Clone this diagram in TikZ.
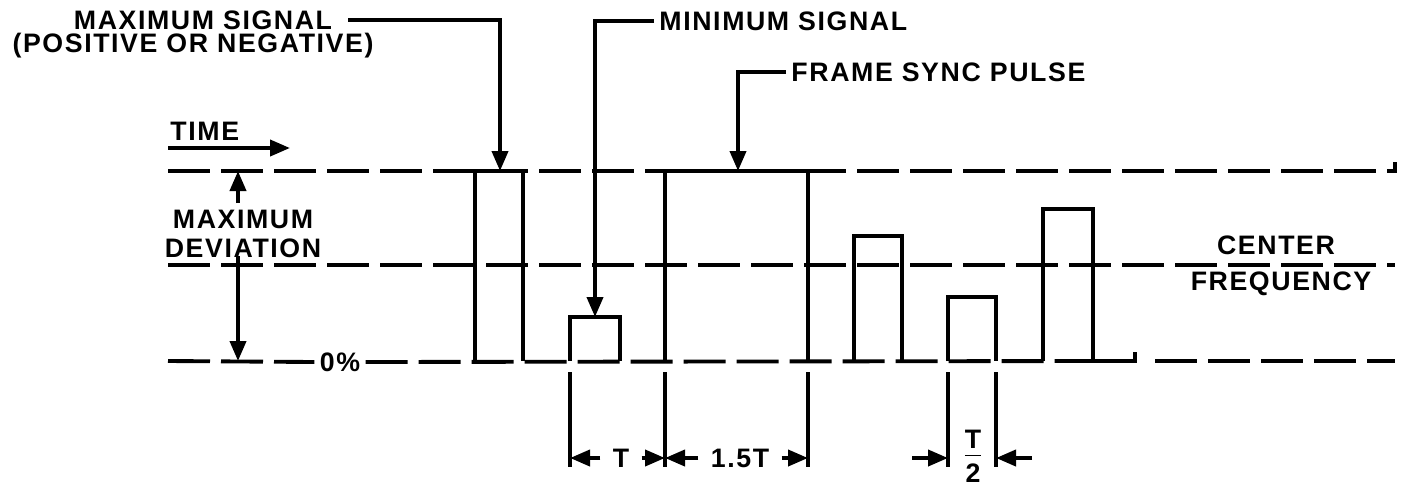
\documentclass[tikz,border=0pt]{standalone}
\usepackage{fontspec}
\setmainfont{Liberation Sans}[LetterSpace=6]
\usetikzlibrary{arrows.meta}

\begin{document}
\begin{tikzpicture}[x=0.1mm, y=-0.1mm, line width=1.1pt,
    >={Triangle[length=2mm, width=1.6mm]},
    font=\fontsize{7.6}{9}\selectfont\bfseries,
    refline/.style={dash pattern=on 4.2mm off 1.1mm},
    lbl/.style={inner sep=1pt, align=center},
    dimlbl/.style={inner sep=3pt}]
  \useasboundingbox (0,0) rectangle (1402,487);

  % reference levels
  \draw[refline] (168,171) -- (1395,171) -- (1395,162);
  \draw[refline] (168,265) -- (1395,265);
  \node[lbl] (zero) at (340,362) {0\%};
  \draw[refline] (168,361) -- (zero.west);
  \draw[refline] (zero.east) -- (1093,361);
  \draw[refline] (1155,361) -- (1395,361);

  % pulses
  \draw (475,361) -- (475,171) -- (523,171) -- (523,361);
  \draw (570,361) -- (570,317) -- (620,317) -- (620,361);
  \draw (665,361) -- (665,171) -- (808,171) -- (808,361);
  \draw (854,361) -- (854,236) -- (902,236) -- (902,361);
  \draw (948,361) -- (948,297) -- (996,297) -- (996,361);
  \draw (1043,361) -- (1043,209) -- (1093,209) -- (1093,361);
  \draw (1093,361) -- (1135,361) -- (1135,352);

  % leaders
  \node[lbl] (maxsig) at (203,20) {MAXIMUM SIGNAL};
  \node[lbl] (posneg) at (193,46) {(POSITIVE OR NEGATIVE)};
  \coordinate (maxtop) at (500,171);
  \draw[->, shorten <=3pt] (maxsig.east) -| (maxtop);

  \node[lbl, anchor=west] (minsig) at (654,21) {MINIMUM SIGNAL};
  \coordinate (mintop) at (595,317);
  \draw[->] (minsig.west) -| (mintop);

  \node[lbl, anchor=west] (fsync) at (786,72) {FRAME SYNC PULSE};
  \coordinate (fstop) at (738,171);
  \draw[->] (fsync.west) -| (fstop);

  % time
  \node[lbl, anchor=west] (time) at (165,131) {TIME};
  \coordinate (tstart) at (168,148);
  \coordinate (tend) at (290,148);
  \draw[->] (tstart) -- (tend);

  % deviation
  \node[lbl] (maxl) at (243,219) {MAXIMUM};
  \node[lbl] (devl) at (243,248) {DEVIATION};
  \coordinate (dvtop) at (238,171);
  \coordinate (dvup) at (238,203);
  \coordinate (dvmid) at (238,256);
  \coordinate (dvbot) at (238,361);
  \draw[->] (dvup) -- (dvtop);
  \draw[->] (dvmid) -- (dvbot);

  % center frequency
  \node[lbl] (cent) at (1276,245) {CENTER};
  \node[lbl] (freq) at (1281,284) {FREQUENCY};

  % dimensions
  \draw (570,372) -- (570,467);
  \draw (665,372) -- (665,467);
  \draw (808,372) -- (808,467);
  \draw (948,372) -- (948,467);
  \draw (996,372) -- (996,467);
  \coordinate (e1) at (570,458);
  \coordinate (e2) at (665,458);
  \coordinate (e3) at (808,458);
  \coordinate (e4) at (948,458);
  \coordinate (e5) at (996,458);
  \node[dimlbl] (tlbl) at (621,458) {T};
  \draw[->] (tlbl) -- (e1);
  \draw[->] (tlbl) -- (e2);
  \node[dimlbl] (t15) at (740,458) {1.5T};
  \draw[->] (t15) -- (e2);
  \draw[->] (t15) -- (e3);
  \node[lbl] (half) at (973,456)
    {$\frac{\hbox{T}\rule[-1.5pt]{0pt}{1pt}}{\hbox{2}\rule{0pt}{7pt}}$};
  \coordinate (h1) at (912,458);
  \coordinate (h2) at (1032,458);
  \draw[->] (h1) -- (e4);
  \draw[->] (h2) -- (e5);
\end{tikzpicture}
\end{document}
